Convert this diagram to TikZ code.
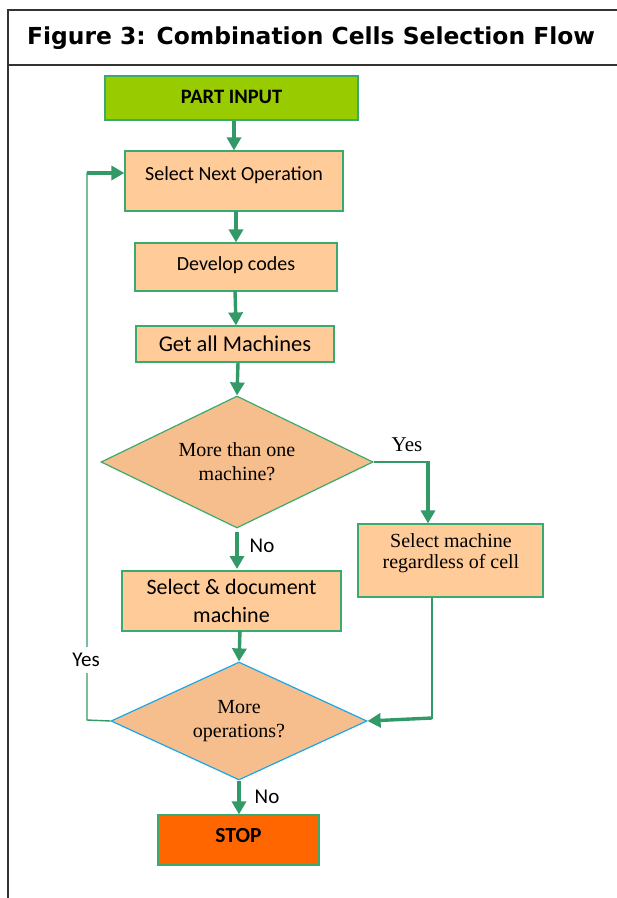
\documentclass[tikz,border=0pt]{standalone}
\usepackage{fontspec}
\setmainfont{Liberation Serif}
\newfontfamily\boxfont{Carlito}
\newfontfamily\headfont{DejaVu Sans}
\usetikzlibrary{arrows.meta,calc,positioning,shapes.geometric}

\definecolor{flowgreen}{HTML}{339966}
\definecolor{edgegreen}{HTML}{3BAA6E}
\definecolor{peach}{HTML}{FFCC99}
\definecolor{tan}{HTML}{F7BE8D}
\definecolor{lime}{HTML}{99CC00}
\definecolor{stoporange}{HTML}{FF6600}
\definecolor{skyline}{HTML}{1AA7E8}

\begin{document}
\begin{tikzpicture}[
      x=1pt, y=-1pt,
      box/.style={rectangle,draw=edgegreen,line width=1.2pt,fill=peach,inner sep=0pt,align=center,font=\boxfont\fontsize{20}{24}\selectfont},
      ask/.style={diamond,draw=edgegreen,line width=1.2pt,fill=tan,inner sep=0pt},
      asktext/.style={align=center,inner sep=0pt,font=\fontsize{20}{24}\selectfont},
      flow/.style={draw=flowgreen,line width=3.4pt,-{Triangle[length=13pt,width=14pt]}},
      link/.style={draw=flowgreen,line width=1.4pt},
      tag/.style={font=\boxfont\fontsize{21}{24}\selectfont,inner sep=1pt}
    ]
    \useasboundingbox (0,0) rectangle (617,898);

    % frame and heading
    \draw[line width=1.3pt,black!80] (8,898) -- (8,10) -- (617,10);
    \draw[line width=1.3pt,black!80] (8,65) -- (617,65);
    \node[anchor=west,inner sep=0pt,font=\headfont\bfseries\fontsize{23.4}{26}\selectfont] (title) at (27,38) {Figure 3: Combination Cells Selection Flow};

    % main column
    \node[box,fill=lime,minimum width=253,minimum height=44,font=\boxfont\bfseries\fontsize{20.5}{24}\selectfont] (inp) at (231.5,98) {\raisebox{2pt}{PART INPUT}};
    \node[box,minimum width=218,minimum height=60] (sel) at (234,181) {\raisebox{15pt}{Select Next Operation}};
    \node[box,minimum width=202,minimum height=48] (dev) at (236,267) {\raisebox{7pt}{Develop codes}};
    \node[box,minimum width=198,minimum height=36,font=\boxfont\fontsize{22.5}{24}\selectfont] (get) at (235,344) {Get all Machines};
    \node[ask,minimum width=272,minimum height=132] (many) at (237,462) {};
    \node[asktext] (manytext) at (237,462) {More than one\\machine?};
    \node[box,minimum width=219,minimum height=60,font=\boxfont\fontsize{22}{28}\selectfont] (doc) at (231.5,601) {Select \& document\\machine};
    \node[ask,draw=skyline,minimum width=256,minimum height=118] (more) at (239,721) {};
    \node[asktext] (moretext) at (239,721) {More\\operations?};
    \node[box,fill=stoporange,minimum width=161,minimum height=50,font=\boxfont\bfseries\fontsize{21.5}{24}\selectfont] (stop) at (238.5,840) {\raisebox{9pt}{STOP}};

    % side branch
    \node[box,minimum width=185,minimum height=73,font=\fontsize{20}{21}\selectfont] (any) at (450.5,560.5) {};
    \node[asktext,font=\fontsize{20}{21}\selectfont] (anytext) at (451,553) {Select machine\\regardless of cell};

    \draw[flow] (sel.north |- inp.south) -- (sel.north);
    \draw[flow] ($(dev.north |- sel.south)+(0,-1)$) -- (dev.north);
    \draw[flow] ($(get.north |- dev.south)+(0,-1)$) -- ($(get.north)+(1,0)$);
    \draw[flow] ($(get.south)+(3,0)$) -- (many.north);
    \draw[flow] (237,532) -- (237,569);
    \node[tag] (no1) at (262,546) {No};
    \draw[flow] ($(doc.south)+(8.5,-1)$) -- (more.north);
    \draw[flow] (more.south) -- ($(stop.north)+(0.5,0)$);
    \node[tag] (no2) at (267,797) {No};

    % yes from first question
    \coordinate (yc) at (428,462);
    \draw[link] (many.east) -- (yc);
    \node[font=\fontsize{21}{24}\selectfont] (yes1) at (407,445) {Yes};
    \draw[flow] ($(yc)+(0,-0.6)$) -- (yc |- any.north);

    % merge into second question
    \coordinate (mc) at (432,718);
    \draw[link] (mc |- any.south) -- ($(mc)+(0,0.6)$);
    \draw[flow] (mc) -- (more.east);

    % loop back
    \coordinate (lc) at (87,720);
    \coordinate (tc) at (87,173);
    \draw[link] (more.west) -- (lc) -- ($(tc)+(0,-0.6)$);
    \draw[flow] (tc) -- (sel.west |- tc);
    \node[tag,fill=white,inner ysep=6pt] (yes2) at (86,660) {Yes};
  \end{tikzpicture}
\end{document}
